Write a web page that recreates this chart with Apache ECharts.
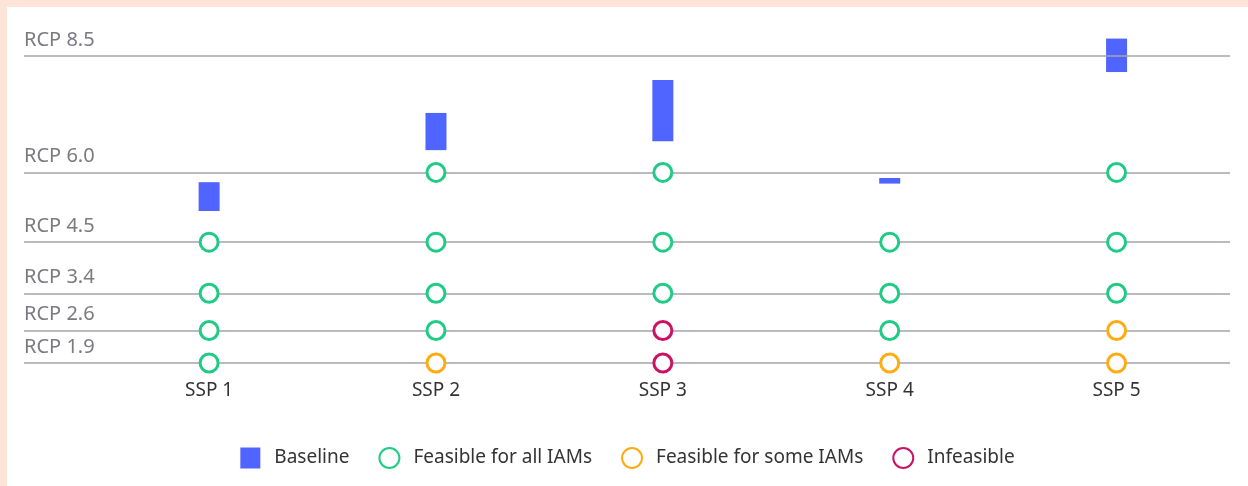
<!DOCTYPE html>
<html>
<head>
<meta charset="utf-8">
<script src="https://cdn.jsdelivr.net/npm/echarts@6/dist/echarts.min.js"></script>
<style>
  html, body { margin: 0; padding: 0; background: #fde4d8; }
  #chart { position: absolute; left: 7px; top: 7px; width: 1241px; height: 479px; background: #fff; }
</style>
</head>
<body>
<div id="chart"></div>
<script>
// scenarios along x
const categories = ['SSP 1', 'SSP 2', 'SSP 3', 'SSP 4', 'SSP 5'];
// RCP reference levels (W/m2)
const rcpLevels = [1.9, 2.6, 3.4, 4.5, 6.0, 8.5];
const rcpLabels = ['RCP 1.9', 'RCP 2.6', 'RCP 3.4', 'RCP 4.5', 'RCP 6.0', 'RCP 8.5'];
// baseline range per SSP
const baselineLow = [5.17, 6.48, 6.67, 5.76, 8.16];
const baselineHigh = [5.79, 7.28, 7.99, 5.88, 8.88];
// feasibility of each target
const feasibleAll = [
  ['SSP 1', 1.9], ['SSP 1', 2.6], ['SSP 1', 3.4], ['SSP 1', 4.5],
  ['SSP 2', 2.6], ['SSP 2', 3.4], ['SSP 2', 4.5], ['SSP 2', 6.0],
  ['SSP 3', 3.4], ['SSP 3', 4.5], ['SSP 3', 6.0],
  ['SSP 4', 2.6], ['SSP 4', 3.4], ['SSP 4', 4.5],
  ['SSP 5', 3.4], ['SSP 5', 4.5], ['SSP 5', 6.0]
];
const feasibleSome = [['SSP 2', 1.9], ['SSP 4', 1.9], ['SSP 5', 1.9], ['SSP 5', 2.6]];
const infeasible = [['SSP 3', 1.9], ['SSP 3', 2.6]];

const font = '"Noto Sans", sans-serif';
const toXY = arr => arr.map(d => [categories.indexOf(d[0]), d[1]]);

function circles(name, color, data) {
  return {
    name: name,
    type: 'scatter',
    symbol: 'circle',
    symbolSize: 18,
    clip: false,
    itemStyle: { color: '#fff', borderColor: color, borderWidth: 3, opacity: 1 },
    z: 5,
    data: toXY(data)
  };
}

const chart = echarts.init(document.getElementById('chart'));
chart.setOption({
  animation: false,
  grid: { left: 17, right: 18, top: 26, bottom: 123 },
  xAxis: {
    type: 'value',
    min: -0.816,
    max: 4.5,
    axisLine: { show: false },
    axisTick: { show: false },
    splitLine: { show: false },
    axisLabel: {
      customValues: [0, 1, 2, 3, 4],
      formatter: v => categories[Math.round(v)],
      margin: 18,
      fontSize: 19,
      color: '#333',
      fontFamily: font
    }
  },
  yAxis: {
    type: 'value',
    min: 1.9,
    max: 9.0,
    show: false
  },
  legend: {
    top: 435,
    left: 'center',
    itemWidth: 20,
    itemHeight: 21,
    itemGap: 29,
    textStyle: { fontSize: 19, color: '#333', fontFamily: font, padding: [0, 0, 0, 9] },
    data: [
      { name: 'Baseline', icon: 'rect' },
      { name: 'Feasible for all IAMs', icon: 'circle' },
      { name: 'Feasible for some IAMs', icon: 'circle' },
      { name: 'Infeasible', icon: 'circle' }
    ]
  },
  series: [
    {
      name: 'Baseline',
      type: 'custom',
      itemStyle: { color: '#5064ff' },
      encode: { x: 0, y: [1, 2] },
      data: categories.map((c, i) => [i, baselineLow[i], baselineHigh[i]]),
      renderItem: function (params, api) {
        const top = api.coord([api.value(0), api.value(2)]);
        const bot = api.coord([api.value(0), api.value(1)]);
        const w = 21;
        return {
          type: 'rect',
          shape: { x: top[0] - w / 2, y: top[1], width: w, height: bot[1] - top[1] },
          style: api.style()
        };
      },
      z: 4,
      markLine: {
        silent: true,
        symbol: 'none',
        lineStyle: { type: 'solid', color: '#a4a4aa', width: 1.5 },
        label: {
          position: 'insideStartTop',
          formatter: '{b}',
          distance: [0, 6],
          fontSize: 20,
          color: '#7a7a80',
          fontFamily: font
        },
        data: rcpLevels.map((v, i) => ({ yAxis: v, name: rcpLabels[i] }))
      }
    },
    circles('Feasible for all IAMs', '#1fcb86', feasibleAll),
    circles('Feasible for some IAMs', '#ffab12', feasibleSome),
    circles('Infeasible', '#cc1262', infeasible)
  ]
});
</script>
</body>
</html>
